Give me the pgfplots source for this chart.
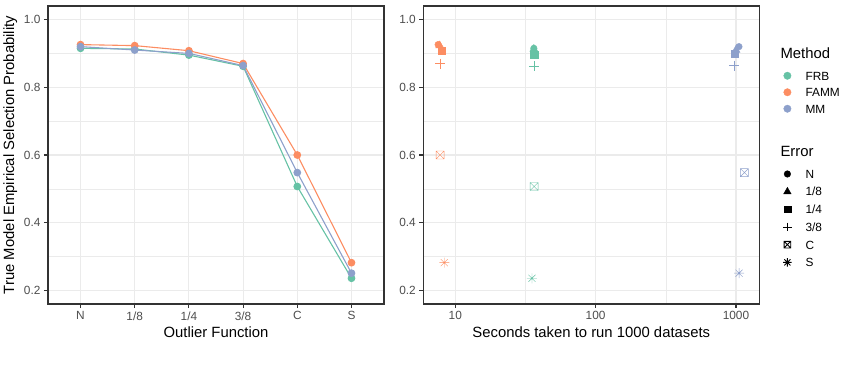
\documentclass[border=0pt]{standalone}
\usepackage{pgfplots}
\usepackage{pgfplotstable}
\pgfplotsset{compat=1.18}
\usepackage{fontspec}
\setmainfont{Liberation Sans}
\definecolor{frb}{HTML}{66C2A5}
\definecolor{famm}{HTML}{FC8D62}
\definecolor{mm}{HTML}{8DA0CB}
\definecolor{gridc}{HTML}{EBEBEB}
\definecolor{framec}{HTML}{333333}
\definecolor{labc}{HTML}{4D4D4D}

\pgfdeclareplotmark{boxx}{%
  \pgfpathrectangle{\pgfpoint{-\pgfplotmarksize}{-\pgfplotmarksize}}{\pgfpoint{2\pgfplotmarksize}{2\pgfplotmarksize}}%
  \pgfpathmoveto{\pgfpoint{-\pgfplotmarksize}{-\pgfplotmarksize}}\pgfpathlineto{\pgfpoint{\pgfplotmarksize}{\pgfplotmarksize}}%
  \pgfpathmoveto{\pgfpoint{-\pgfplotmarksize}{\pgfplotmarksize}}\pgfpathlineto{\pgfpoint{\pgfplotmarksize}{-\pgfplotmarksize}}%
  \pgfusepathqstroke}
\pgfdeclareplotmark{ast8}{%
  \pgfpathmoveto{\pgfpoint{-\pgfplotmarksize}{0pt}}\pgfpathlineto{\pgfpoint{\pgfplotmarksize}{0pt}}%
  \pgfpathmoveto{\pgfpoint{0pt}{-\pgfplotmarksize}}\pgfpathlineto{\pgfpoint{0pt}{\pgfplotmarksize}}%
  \pgfpathmoveto{\pgfpoint{-0.7071\pgfplotmarksize}{-0.7071\pgfplotmarksize}}\pgfpathlineto{\pgfpoint{0.7071\pgfplotmarksize}{0.7071\pgfplotmarksize}}%
  \pgfpathmoveto{\pgfpoint{-0.7071\pgfplotmarksize}{0.7071\pgfplotmarksize}}\pgfpathlineto{\pgfpoint{0.7071\pgfplotmarksize}{-0.7071\pgfplotmarksize}}%
  \pgfusepathqstroke}

\pgfplotstableread{
x FRB FAMM MM
0 0.915 0.926 0.920
1 0.913 0.923 0.910
2 0.895 0.908 0.900
3 0.862 0.870 0.864
4 0.507 0.600 0.548
5 0.236 0.282 0.251
}\sel

\pgfplotstableread{
t p e
36.3 0.915 N
36.3 0.913 e1
36.5 0.895 e2
36.5 0.862 e3
36.5 0.507 C
35.2 0.236 S
}\frbtime

\pgfplotstableread{
t p e
7.55 0.926 N
7.75 0.923 e1
8.0 0.908 e2
7.8 0.870 e3
7.8 0.600 C
8.35 0.282 S
}\fammtime

\pgfplotstableread{
t p e
1050 0.920 N
1000 0.910 e1
973 0.900 e2
973 0.864 e3
1148 0.548 C
1052 0.251 S
}\mmtime

\pgfplotsset{
  gg/.style={
    scale only axis, width=336bp, height=298bp,
    ymin=0.16, ymax=1.04,
    ytick={0.2,0.4,0.6,0.8,1.0},
    minor ytick={0.3,0.5,0.7,0.9},
    grid=both,
    major grid style={color=gridc, line width=1.07bp},
    minor grid style={color=gridc, line width=0.53bp},
    axis line style={color=framec, line width=1.07bp},
    major tick style={color=framec, line width=1.07bp},
    major tick length=4bp, minor tick length=0pt,
    tick align=outside, tick pos=left,
    yticklabel style={/pgf/number format/fixed, /pgf/number format/fixed zerofill, /pgf/number format/precision=1},
    tick label style={font=\fontsize{11.9}{13}\selectfont, color=labc},
    label style={font=\fontsize{14.9}{17}\selectfont, color=black},
    /pgf/number format/assume math mode=true,
    /pgf/number format/1000 sep={},
  },
  errclasses/.style={
    scatter/classes={
      N={mark=*, mark size=3.3bp, #1},
      e1={mark=triangle*, mark size=4.6bp, #1},
      e2={mark=square*, mark size=3.6bp, #1},
      e3={mark=+, mark size=5bp, #1, mark options={line width=0.9bp}},
      C={mark=boxx, mark size=4bp, #1, mark options={line width=0.9bp}},
      S={mark=ast8, mark size=5bp, #1, mark options={line width=1bp}}
    }
  }
}

\begin{document}
\begin{tikzpicture}
\useasboundingbox (0,0) rectangle (843bp,383bp);

\begin{axis}[gg, at={(48bp,79bp)}, anchor=south west,
  xmin=-0.6, xmax=5.6,
  xtick={0,1,2,3,4,5}, xticklabels={N,1/8,1/4,3/8,C,S},
  xlabel={Outlier Function},
  ylabel={True Model Empirical Selection Probability},
]
\addplot[color=frb, line width=1.1bp, mark=*, mark size=3.3bp] table[x=x, y=FRB] {\sel};
\addplot[color=famm, line width=1.1bp, mark=*, mark size=3.3bp] table[x=x, y=FAMM] {\sel};
\addplot[color=mm, line width=1.1bp, mark=*, mark size=3.3bp] table[x=x, y=MM] {\sel};
\end{axis}

\begin{axis}[gg, at={(423.3bp,79bp)}, anchor=south west,
  xmode=log, xmin=5.92, xmax=1466,
  xtick={10,100,1000}, minor xtick={31.62,316.2},
  log ticks with fixed point,
  xlabel={Seconds taken to run 1000 datasets},
  legend style={at={(axis description cs:1,1)}, anchor=north west, xshift=19.7bp, yshift=-38.6bp,
    draw=none, fill=none, inner sep=0pt, row sep=0pt, column sep=0pt,
    font=\fontsize{11.9}{13}\selectfont, cells={anchor=base west, inner sep=0pt}},
  legend image code/.code={\path (-8bp,0bp) (16bp,0bp); \draw[#1,only marks,overlay] plot coordinates {(0bp,4.3bp)};},
]
\addplot[scatter, only marks, point meta=explicit symbolic, errclasses={color=frb}, forget plot] table[x=t, y=p, meta=e] {\frbtime};
\addplot[scatter, only marks, point meta=explicit symbolic, errclasses={color=famm}, forget plot] table[x=t, y=p, meta=e] {\fammtime};
\addplot[scatter, only marks, point meta=explicit symbolic, errclasses={color=mm}, forget plot] table[x=t, y=p, meta=e] {\mmtime};

\addlegendimage{empty legend}
\addlegendentry{\rule[-4bp]{0pt}{16bp}\hspace*{-25bp}\fontsize{14.9}{17}\selectfont Method}
\addlegendimage{only marks, mark=*, mark size=3.7bp, color=frb}
\addlegendentry{\rule[-4bp]{0pt}{19.8bp}FRB}
\addlegendimage{only marks, mark=*, mark size=3.7bp, color=famm}
\addlegendentry{\rule[-4bp]{0pt}{15bp}FAMM}
\addlegendimage{only marks, mark=*, mark size=3.7bp, color=mm}
\addlegendentry{\rule[-4bp]{0pt}{15bp}MM}
\addlegendimage{empty legend}
\addlegendentry{\rule[-4bp]{0pt}{41.9bp}\hspace*{-25bp}\fontsize{14.9}{17}\selectfont Error}
\addlegendimage{only marks, mark=*, mark size=3.3bp, color=black}
\addlegendentry{\rule[-4bp]{0pt}{20.4bp}N}
\addlegendimage{only marks, mark=triangle*, mark size=4.3bp, color=black}
\addlegendentry{\rule[-4bp]{0pt}{16.2bp}1/8}
\addlegendimage{only marks, mark=square*, mark size=3.3bp, color=black}
\addlegendentry{\rule[-4bp]{0pt}{16.2bp}1/4}
\addlegendimage{only marks, mark=+, mark size=4.3bp, color=black, mark options={line width=0.9bp}}
\addlegendentry{\rule[-4bp]{0pt}{16.2bp}3/8}
\addlegendimage{only marks, mark=boxx, mark size=3.3bp, color=black, mark options={line width=0.9bp}}
\addlegendentry{\rule[-4bp]{0pt}{16.2bp}C}
\addlegendimage{only marks, mark=ast8, mark size=4.3bp, color=black, mark options={line width=0.9bp}}
\addlegendentry{\rule[-4bp]{0pt}{16.2bp}S}
\end{axis}
\end{tikzpicture}
\end{document}
